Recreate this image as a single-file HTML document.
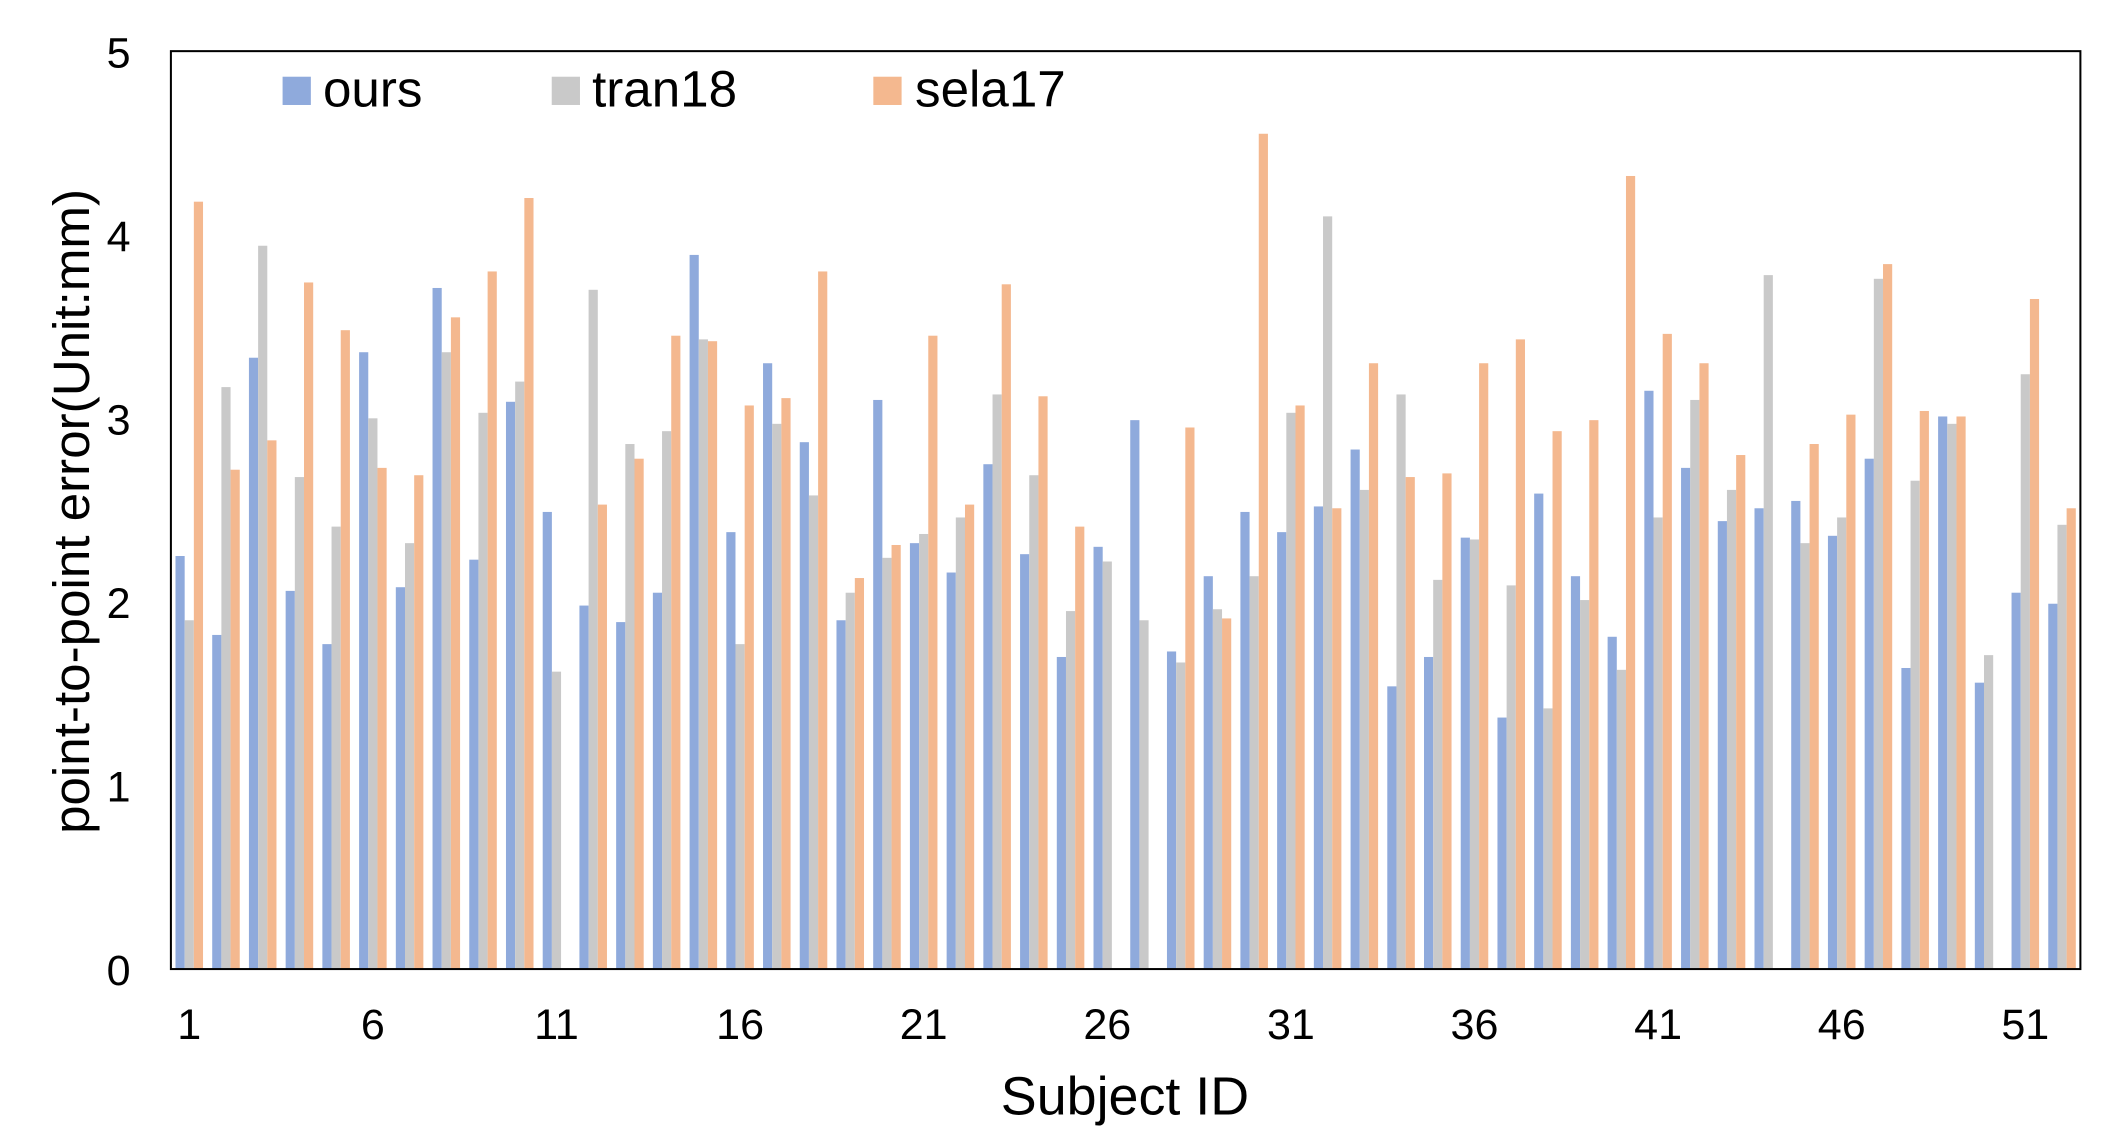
<!DOCTYPE html>
<html><head><meta charset="utf-8"><style>
html,body{margin:0;padding:0;background:#fff;}
svg{display:block;font-family:"Liberation Sans",sans-serif;}
</style></head><body>
<svg id="chart" width="2110" height="1140" viewBox="0 0 1568 847" preserveAspectRatio="none" xmlns="http://www.w3.org/2000/svg">
<g id="bars"></g>
<rect x="127" y="38" width="1419" height="682" fill="none" stroke="#000" stroke-width="1.5"/>
<g id="yticks"></g>
<g id="xticks"></g>
<text transform="translate(66,380) rotate(-90)" text-anchor="middle" font-size="38">point-to-point error(Unit:mm)</text>
<text x="836" y="828" text-anchor="middle" font-size="40">Subject ID</text>
<g>
<g><rect x="210" y="57" width="21" height="21" fill="#8faadc"/><text x="240" y="79" font-size="38">ours</text></g>
<g><rect x="410" y="57" width="21" height="21" fill="#c9c9c9"/><text x="440" y="79" font-size="38">tran18</text></g>
<g><rect x="649" y="57" width="21" height="21" fill="#f4b88f"/><text x="680" y="79" font-size="38">sela17</text></g>
</g>
</svg>
<script>
const subjects = Array.from({length:52},(_, i)=>i+1);
const ours = [2.25,1.82,3.33,2.06,1.77,3.36,2.08,3.71,2.23,3.09,2.49,1.98,1.89,2.05,3.89,2.38,3.30,2.87,1.90,3.10,2.32,2.16,2.75,2.26,1.70,2.30,2.99,1.73,2.14,2.49,2.38,2.52,2.83,1.54,1.70,2.35,1.37,2.59,2.14,1.81,3.15,2.73,2.44,2.51,2.55,2.36,2.78,1.64,3.01,1.56,2.05,1.99];
const tran18 = [1.90,3.17,3.94,2.68,2.41,3.00,2.32,3.36,3.03,3.20,1.62,3.70,2.86,2.93,3.43,1.77,2.97,2.58,2.05,2.24,2.37,2.46,3.13,2.69,1.95,2.22,1.90,1.67,1.96,2.14,3.03,4.10,2.61,3.13,2.12,2.34,2.09,1.42,2.01,1.63,2.46,3.10,2.61,3.78,2.32,2.46,3.76,2.66,2.97,1.71,3.24,2.42];
const sela17 = [4.18,2.72,2.88,3.74,3.48,2.73,2.69,3.55,3.80,4.20,0,2.53,2.78,3.45,3.42,3.07,3.11,3.80,2.13,2.31,3.45,2.53,3.73,3.12,2.41,0,0,2.95,1.91,4.55,3.07,2.51,3.30,2.68,2.70,3.30,3.43,2.93,2.99,4.32,3.46,3.30,2.80,0,2.86,3.02,3.84,3.04,3.01,0,3.65,2.51];
const yTicks = [0,1,2,3,4,5];
const xTickLabels = [1,6,11,16,21,26,31,36,41,46,51];

const NS="http://www.w3.org/2000/svg";
const X0=127, X1=1546, Y0=720, YT=38, YMAX=5;
const band=(X1-X0)/subjects.length;
const bw=band/4;
function xScale(i){return X0+i*band;}
function yScale(v){return Y0-(v/YMAX)*(Y0-YT);}
const series=[{name:'ours',vals:ours,color:'#8faadc'},{name:'tran18',vals:tran18,color:'#c9c9c9'},{name:'sela17',vals:sela17,color:'#f4b88f'}];
const gb=document.getElementById('bars');
series.forEach((s,si)=>{
  s.vals.forEach((v,i)=>{
    if(v<=0) return;
    const r=document.createElementNS(NS,'rect');
    
    
    r.setAttribute('x', xScale(i)+band/8+si*bw);
    r.setAttribute('width', bw);
    r.setAttribute('y', yScale(v));
    r.setAttribute('height', Y0-yScale(v));
    r.setAttribute('fill', s.color);
    gb.appendChild(r);
  });
});
const gy=document.getElementById('yticks');
yTicks.forEach(t=>{
  const tx=document.createElementNS(NS,'text');
  
  
  tx.setAttribute('x', 97);
  tx.setAttribute('y', yScale(t)+12);
  tx.setAttribute('text-anchor','end');
  tx.setAttribute('font-size','32');
  tx.textContent=t;
  gy.appendChild(tx);
});
const gx=document.getElementById('xticks');
xTickLabels.forEach(l=>{
  const tx=document.createElementNS(NS,'text');
  
  
  tx.setAttribute('x', xScale(l-1)+band/2);
  tx.setAttribute('y', 772);
  tx.setAttribute('text-anchor','middle');
  tx.setAttribute('font-size','32');
  tx.textContent=l;
  gx.appendChild(tx);
});
</script>
</body></html>
